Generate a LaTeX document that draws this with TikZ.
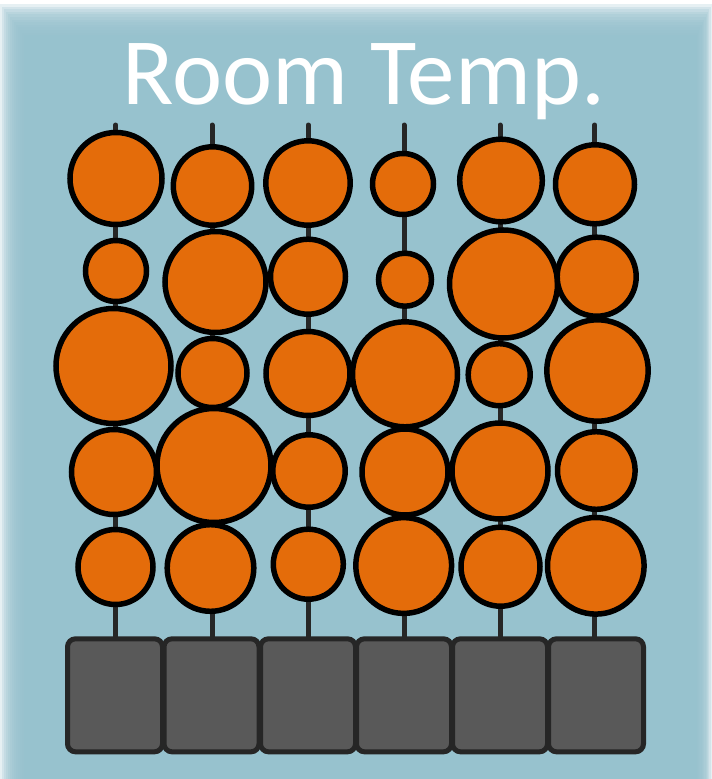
\documentclass[tikz,border=0pt]{standalone}
\usepackage{fontspec}
\setmainfont{Carlito}
\usepackage{tikz}
\usetikzlibrary{positioning,calc}
\usepackage{xcolor}
\definecolor{panelblue}{RGB}{151,194,206}
\definecolor{beadorange}{RGB}{228,108,10}
\definecolor{basegrey}{RGB}{89,89,89}
\definecolor{darkline}{RGB}{38,38,38}

\begin{document}
\begin{tikzpicture}[x=1pt, y=-1pt,
    bead/.style={circle, draw=black, line width=5.5pt, fill=beadorange,
        inner sep=0pt},
    basebox/.style={rectangle, draw=darkline, line width=5pt, fill=basegrey,
        minimum width=95pt, minimum height=113pt, rounded corners=8pt,
        inner sep=0pt},
    strand/.style={darkline, line width=5pt, line cap=round},
    titletext/.style={text=white, font=\fontsize{95}{95}\selectfont,
        inner sep=0pt}
]
    % Canvas and soft-edged panel
    \useasboundingbox (0,0) rectangle (712,779);
    \fill[white] (0,0) rectangle (712,779);
    \foreach \i in {0,...,11}
        \fill[panelblue, fill opacity=0.24]
            (2*\i,4+2.6*\i) rectangle (712-1.3*\i,790);
    \fill[panelblue] (24,35) rectangle (697,790);

    % Title
    \node[titletext, anchor=base] (title) at (364,104) {Room Temp.};

    % Base blocks
    \node[basebox] (b1) at (115,695.3) {};
    \node[basebox] (b2) at (211.5,695.3) {};
    \node[basebox] (b3) at (308,695.3) {};
    \node[basebox] (b4) at (404,695.3) {};
    \node[basebox] (b5) at (500,695.3) {};
    \node[basebox] (b6) at (596,695.3) {};

    % Strand tops
    \coordinate (t1) at (115.7,125);
    \coordinate (t2) at (212,125);
    \coordinate (t3) at (308.3,125);
    \coordinate (t4) at (404,125);
    \coordinate (t5) at (500,125);
    \coordinate (t6) at (594.7,125);

    \draw[strand] (t1) -- (t1 |- b1.north);
    \draw[strand] (t2) -- (t2 |- b2.north);
    \draw[strand] (t3) -- (t3 |- b3.north);
    \draw[strand] (t4) -- (t4 |- b4.north);
    \draw[strand] (t5) -- (t5 |- b5.north);
    \draw[strand] (t6) -- (t6 |- b6.north);

    % Column 1
    \node[bead, minimum size=92pt] (c11) at (116,178.5) {};
    \node[bead, minimum size=61pt] (c12) at (116,271) {};
    \node[bead, minimum size=115pt] (c13) at (113.5,366) {};
    \node[bead, minimum size=85pt] (c14) at (114,472) {};
    \node[bead, minimum size=75pt] (c15) at (115.5,567) {};

    % Column 2
    \node[bead, minimum size=78.4pt] (c21) at (212.5,186) {};
    \node[bead, minimum size=101pt] (c22) at (215.5,282) {};
    \node[bead, minimum size=69pt] (c23) at (212.5,373) {};
    \node[bead, minimum size=114pt] (c24) at (214,465.5) {};
    \node[bead, minimum size=86.6pt] (c25) at (210.5,568) {};

    % Column 3
    \node[bead, minimum size=84.4pt] (c31) at (308,183) {};
    \node[bead, minimum size=75pt] (c32) at (308,276.7) {};
    \node[bead, minimum size=84pt] (c33) at (308,373.5) {};
    \node[bead, minimum size=72.4pt] (c34) at (309,471) {};
    \node[bead, minimum size=70pt] (c35) at (308.3,564.2) {};

    % Column 4
    \node[bead, minimum size=61pt] (c41) at (403,184) {};
    \node[bead, minimum size=53pt] (c42) at (405,279.7) {};
    \node[bead, minimum size=105pt] (c43) at (405,374.3) {};
    \node[bead, minimum size=86pt] (c44) at (405,472) {};
    \node[bead, minimum size=95.8pt] (c45) at (403.7,565.5) {};

    % Column 5
    \node[bead, minimum size=82.6pt] (c51) at (501,180.5) {};
    \node[bead, minimum size=108pt] (c52) at (503.5,284) {};
    \node[bead, minimum size=62pt] (c53) at (499.2,374.7) {};
    \node[bead, minimum size=96pt] (c54) at (500,471) {};
    \node[bead, minimum size=79pt] (c55) at (500.5,566.7) {};

    % Column 6
    \node[bead, minimum size=79pt] (c61) at (595,184.3) {};
    \node[bead, minimum size=79pt] (c62) at (596.7,276.7) {};
    \node[bead, minimum size=101.4pt] (c63) at (597.5,370.5) {};
    \node[bead, minimum size=77.6pt] (c64) at (596.3,470.5) {};
    \node[bead, minimum size=96.6pt] (c65) at (595.8,565.8) {};
\end{tikzpicture}
\end{document}
